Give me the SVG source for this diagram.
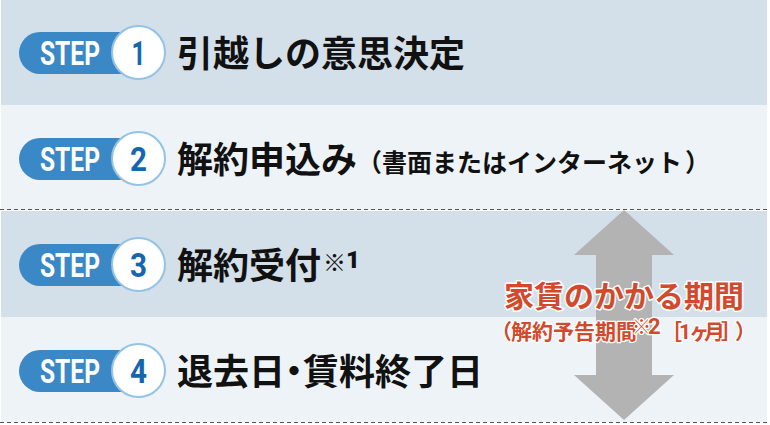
<svg xmlns="http://www.w3.org/2000/svg" width="770" height="425" viewBox="0 0 770 425">
<defs>
<style>
.bandD{fill:#d3dfe9}
.bandL{fill:#eef3f8}
.dash{stroke:#555;stroke-width:1;stroke-dasharray:4 3;fill:none}
.pill{fill:#3a88c6}
.circ{fill:#fff;stroke:#93c3e6;stroke-width:2}
.step{font-family:Roboto,"Liberation Sans",sans-serif;font-weight:700;font-size:34px;fill:#fff}
.num{font-family:Roboto,"Liberation Sans",sans-serif;font-weight:700;font-size:34px;fill:#1566b1;text-anchor:middle}
.main{font-family:"Noto Sans CJK JP","Noto Sans",sans-serif;font-weight:700;font-size:36px;fill:#111}
.sub{font-family:"Noto Sans CJK JP","Noto Sans",sans-serif;font-weight:700;font-size:25px;fill:#111}
.red{font-family:"Noto Sans CJK JP","Noto Sans",sans-serif;font-weight:700;fill:#d3492b;stroke:#fff;stroke-width:3;stroke-linejoin:round;paint-order:stroke}
</style>
</defs>
<rect x="0" y="0" width="770" height="425" fill="#fff"/>
<g id="bands">
<rect class="bandD" x="1" y="0" width="766" height="105"/>
<rect class="bandL" x="1" y="105" width="766" height="105"/>
<rect class="bandD" x="1" y="211" width="766" height="106"/>
<rect class="bandL" x="1" y="317" width="766" height="105"/>
<line class="dash" x1="0" y1="209.5" x2="770" y2="209.5"/>
<line class="dash" x1="0" y1="422.5" x2="770" y2="422.5"/>
</g>
<g id="connectors">
<path id="period-arrow" d="M624 210 L674 255 L652 255 L652 375 L674 375 L624 420 L574 375 L596 375 L596 255 L574 255 Z" fill="#b3b3b3"/>
</g>
<g id="step1">
<rect class="pill" x="19" y="32" width="130" height="42" rx="21"/>
<circle class="circ" cx="138.5" cy="52.5" r="26.5"/>
<text class="step" x="40" y="65" textLength="60" lengthAdjust="spacingAndGlyphs">STEP</text>
<text class="num" x="138.5" y="65" textLength="14" lengthAdjust="spacingAndGlyphs">1</text>
<text class="main" x="177" y="67">引越しの意思決定</text>
</g>
<g id="step2">
<rect class="pill" x="19" y="138" width="130" height="42" rx="21"/>
<circle class="circ" cx="138.5" cy="158.5" r="26.5"/>
<text class="step" x="40" y="171" textLength="60" lengthAdjust="spacingAndGlyphs">STEP</text>
<text class="num" x="138.5" y="171" textLength="17" lengthAdjust="spacingAndGlyphs">2</text>
<text class="main" x="177" y="173">解約申込み</text>
<text class="sub" x="357" y="172">（書面またはインターネット<tspan dx="3">）</tspan></text>
</g>
<g id="step3">
<rect class="pill" x="19" y="244" width="130" height="42" rx="21"/>
<circle class="circ" cx="138.5" cy="264.5" r="26.5"/>
<text class="step" x="40" y="277" textLength="60" lengthAdjust="spacingAndGlyphs">STEP</text>
<text class="num" x="138.5" y="277" textLength="17" lengthAdjust="spacingAndGlyphs">3</text>
<text class="main" x="177" y="279">解約受付</text>
<text class="main" x="323" y="271" style="font-size:23px">※</text>
<text class="main" x="346" y="268" style="font-family:Roboto,'Liberation Sans',sans-serif;font-size:24px;font-weight:900">1</text>
</g>
<g id="step4">
<rect class="pill" x="19" y="350" width="130" height="42" rx="21"/>
<circle class="circ" cx="138.5" cy="370.5" r="26.5"/>
<text class="step" x="40" y="383" textLength="60" lengthAdjust="spacingAndGlyphs">STEP</text>
<text class="num" x="138.5" y="383" textLength="17" lengthAdjust="spacingAndGlyphs">4</text>
<text class="main" x="177" y="385">退去日<tspan dx="-9">・</tspan><tspan dx="-9">賃料終了日</tspan></text>
</g>
<g id="period-label">
<text class="red" x="624" y="307" text-anchor="middle" style="font-size:30px">家賃のかかる期間</text>
<text class="red" y="339" style="font-size:21px;stroke-width:2.5"><tspan x="491">（</tspan><tspan x="511">解約予告期間</tspan><tspan x="632" y="334" style="font-size:19px">※</tspan><tspan x="648" y="334" style="font-size:22px;font-family:Roboto,'Liberation Sans',sans-serif">2</tspan><tspan x="661" y="339">［</tspan><tspan x="679" style="font-family:Roboto,'Liberation Sans',sans-serif">1</tspan><tspan x="689">ヶ</tspan><tspan x="704">月</tspan><tspan x="721">］</tspan><tspan x="735">）</tspan></text>
</g>
</svg>
